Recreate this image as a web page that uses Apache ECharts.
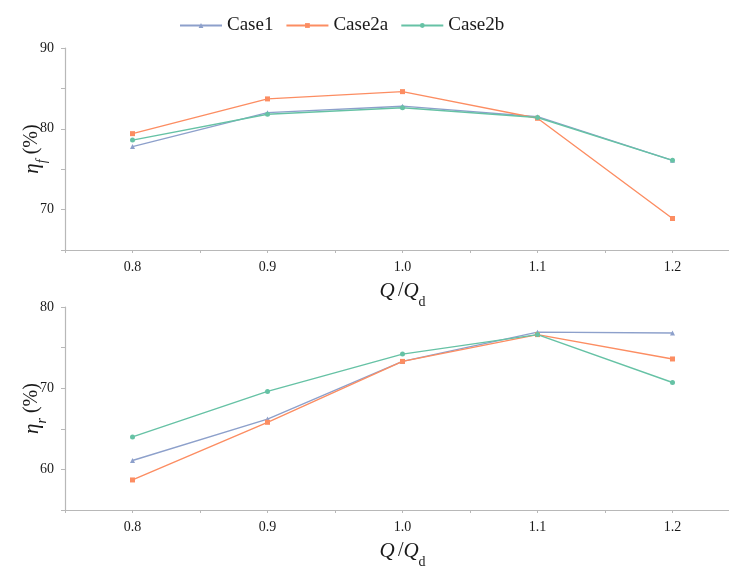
<!DOCTYPE html>
<html>
<head>
<meta charset="utf-8">
<script src="https://cdn.jsdelivr.net/npm/echarts@6/dist/echarts.min.js"></script>
<style>
  html, body { margin: 0; padding: 0; background: #fff; }
  #chart { width: 729px; height: 567px; }
</style>
</head>
<body>
<div id="chart"></div>
<script>
// Flow ratio Q/Qd
const flowRatio = [0.8, 0.9, 1.0, 1.1, 1.2];
const seriesNames = ['Case1', 'Case2a', 'Case2b'];

// Efficiency eta_f (%)
const etaF_case1  = [77.8, 82.0, 82.8, 81.5, 76.1];
const etaF_case2a = [79.4, 83.7, 84.6, 81.3, 68.9];
const etaF_case2b = [78.6, 81.8, 82.6, 81.4, 76.1];

// Efficiency eta_r (%)
const etaR_case1  = [61.1, 66.2, 73.3, 76.9, 76.8];
const etaR_case2a = [58.7, 65.8, 73.3, 76.6, 73.6];
const etaR_case2b = [64.0, 69.6, 74.2, 76.6, 70.7];

const colors = ['#8da0cb', '#fc8d62', '#66c2a5'];
const symbols = ['triangle', 'rect', 'circle'];
const FONT = 'Liberation Serif';
const AXIS_COLOR = '#b8b8b8';
const TEXT_COLOR = '#1a1a1a';

const pairs = vals => flowRatio.map((x, i) => [x, vals[i]]);

const nameRich = {
  i: { fontFamily: FONT, fontStyle: 'italic', fontSize: 21, color: TEXT_COLOR, lineHeight: 26, verticalAlign: 'middle' },
  n: { fontFamily: FONT, fontSize: 20, color: TEXT_COLOR, lineHeight: 26, verticalAlign: 'middle' },
  si: { fontFamily: FONT, fontStyle: 'italic', fontSize: 14, color: TEXT_COLOR, lineHeight: 26, verticalAlign: 'bottom', padding: [0, 0, -4, 0] },
  s: { fontFamily: FONT, fontSize: 14, color: TEXT_COLOR, lineHeight: 26, verticalAlign: 'bottom', padding: [0, 0, -5, 0] }
};

function xAxisCfg(gridIndex) {
  return {
    type: 'value', gridIndex,
    min: 0.75, max: 1.25, interval: 0.05,
    name: '{i|Q} {n|/}{i|Q}{s|d}',
    nameLocation: 'middle', nameGap: 28, nameMoveOverlap: false,
    nameTextStyle: { rich: nameRich },
    axisLine: { show: true, lineStyle: { color: AXIS_COLOR, width: 1.2 } },
    axisTick: { show: true, length: 3, lineStyle: { color: AXIS_COLOR } },
    axisLabel: {
      margin: 10, fontFamily: FONT, fontSize: 14, color: TEXT_COLOR,
      formatter: v => (Math.round(v * 100) % 10 === 0 ? v.toFixed(1) : '')
    },
    splitLine: { show: false }
  };
}

function yAxisCfg(gridIndex, min, max, sub) {
  return {
    type: 'value', gridIndex,
    min, max, interval: 5,
    name: '{i|η}{si|' + sub + '}{n| (%)}',
    nameLocation: 'middle', nameGap: 20, nameMoveOverlap: false,
    nameTextStyle: { rich: nameRich },
    axisLine: { show: true, lineStyle: { color: AXIS_COLOR, width: 1.2 } },
    axisTick: { show: true, length: 4, lineStyle: { color: AXIS_COLOR } },
    axisLabel: {
      margin: 11, fontFamily: FONT, fontSize: 14, color: TEXT_COLOR,
      formatter: v => (Math.round(v) % 10 === 0 ? String(Math.round(v)) : '')
    },
    splitLine: { show: false }
  };
}

function lineSeries(name, idx, vals, axisIndex) {
  return {
    name, type: 'line',
    xAxisIndex: axisIndex, yAxisIndex: axisIndex,
    data: pairs(vals),
    symbol: symbols[idx], symbolSize: 5,
    showSymbol: true,
    itemStyle: { color: colors[idx] },
    lineStyle: { color: colors[idx], width: 1.4 },
    emphasis: { disabled: true },
    animation: false
  };
}

const chart = echarts.init(document.getElementById('chart'), null, { renderer: 'canvas' });
chart.setOption({
  backgroundColor: '#fff',
  animation: false,
  legend: {
    data: seriesNames,
    left: 174, top: 11,
    itemWidth: 42, itemHeight: 6, itemGap: 12,
    textStyle: { fontFamily: FONT, fontSize: 19, color: TEXT_COLOR }
  },
  grid: [
    { left: 65, top: 48, width: 675, height: 202, outerBoundsMode: 'none', containLabel: false },
    { left: 65, top: 307, width: 675, height: 203, outerBoundsMode: 'none', containLabel: false }
  ],
  xAxis: [xAxisCfg(0), xAxisCfg(1)],
  yAxis: [yAxisCfg(0, 65, 90, 'f'), yAxisCfg(1, 55, 80, 'r')],
  series: [
    lineSeries('Case1', 0, etaF_case1, 0),
    lineSeries('Case2a', 1, etaF_case2a, 0),
    lineSeries('Case2b', 2, etaF_case2b, 0),
    lineSeries('Case1', 0, etaR_case1, 1),
    lineSeries('Case2a', 1, etaR_case2a, 1),
    lineSeries('Case2b', 2, etaR_case2b, 1)
  ]
});
</script>
</body>
</html>
